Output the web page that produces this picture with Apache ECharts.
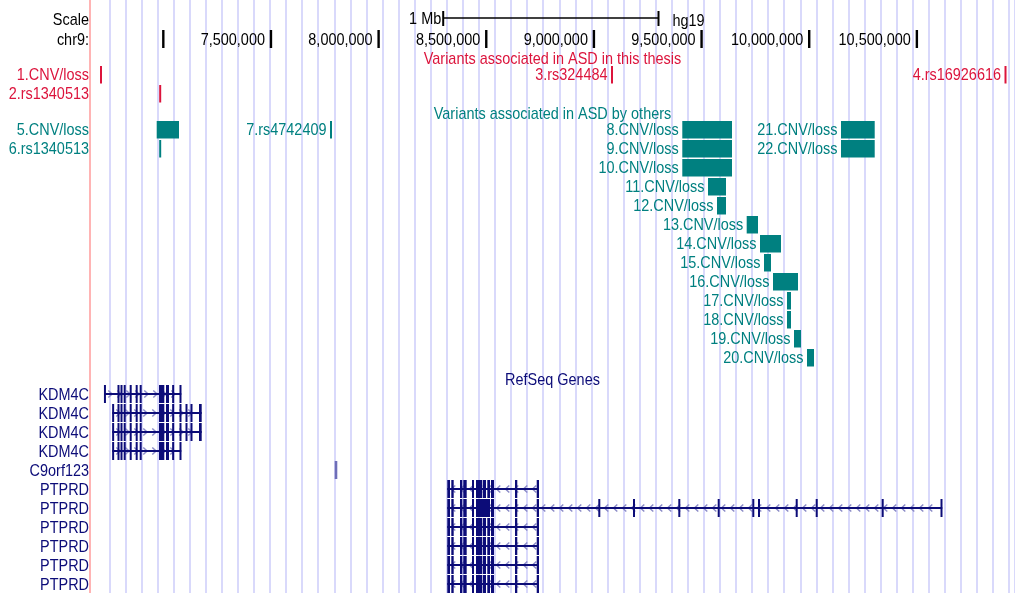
<!DOCTYPE html>
<html>
<head>
<meta charset="utf-8">
<title>chr9 ASD variants</title>
<script src="https://cdn.jsdelivr.net/npm/echarts@6/dist/echarts.min.js"></script>
<style>
  html, body { margin: 0; padding: 0; background: #ffffff; }
  #chart { width: 1015px; height: 593px; }
</style>
</head>
<body>
<div id="chart"></div>
<script>
// ---------- data (hg19, chr9) ----------
const rulerTicks  = [7000000, 7500000, 8000000, 8500000, 9000000, 9500000, 10000000, 10500000];
const rulerLabels = ['', '7,500,000', '8,000,000', '8,500,000', '9,000,000', '9,500,000', '10,000,000', '10,500,000'];
const scaleBarRange = [8300000, 9300000];
const scaleBarLabel = '1 Mb';
const assemblyName = 'hg19';
const chromLabel = 'chr9:';

const trackTitles = ['Variants associated in ASD in this thesis', 'Variants associated in ASD by others', 'RefSeq Genes'];

// variants found in this thesis
const thesisNames = ['1.CNV/loss', '2.rs1340513', '3.rs324484', '4.rs16926616'];
const thesisStart = [6709500, 6985500, 9084000, 10911700];
const thesisEnd   = [6711600, 6985501, 9084001, 10911701];

// variants reported by others
const otherNames = ['5.CNV/loss', '6.rs1340513', '7.rs4742409', '8.CNV/loss', '9.CNV/loss', '10.CNV/loss',
  '11.CNV/loss', '12.CNV/loss', '13.CNV/loss', '14.CNV/loss', '15.CNV/loss', '16.CNV/loss', '17.CNV/loss',
  '18.CNV/loss', '19.CNV/loss', '20.CNV/loss', '21.CNV/loss', '22.CNV/loss'];
const otherStart = [6969300, 6985500, 7778800, 9410500, 9410500, 9410500, 9529900, 9571700, 9709600, 9771400,
  9790000, 9831800, 9896800, 9896800, 9929300, 9989700, 10147600, 10147600];
const otherEnd   = [7072900, 6985501, 7778801, 9641400, 9641400, 9641400, 9613500, 9613500, 9762100, 9869000,
  9822500, 9947900, 9915400, 9915400, 9961800, 10022200, 10304200, 10304200];

// RefSeq transcripts
const kdm4cShared = [[6788100, 6795600], [6802100, 6809500], [6816000, 6825300], [6843900, 6853200],
  [6871700, 6881000], [6890300, 6899600], [6980000, 7004600], [7012500, 7026400], [7041700, 7049600],
  [7076100, 7083500]];
const kdm4cTail = [[7104000, 7111400], [7127200, 7134600], [7165700, 7178300]];
const ptprdHead = [[8319000, 8331600], [8337600, 8348700], [8378000, 8388700], [8393300, 8409100],
  [8433700, 8443000]];
const ptprdMid = [[8452300, 8480200], [8483400, 8498800], [8504800, 8517300]];
const ptprdShortTail = [[8522000, 8535900], [8633500, 8644100], [8734300, 8744900]];
const ptprdLongTail = [[9020400, 9029600], [9181600, 9190800], [9392000, 9401200], [9575000, 9584200],
  [9735700, 9744900], [9762200, 9771400], [9937300, 9946500], [10030200, 10039400], [10336700, 10345900],
  [10610800, 10618000]];

const geneNames  = ['KDM4C', 'KDM4C', 'KDM4C', 'KDM4C', 'C9orf123', 'PTPRD', 'PTPRD', 'PTPRD', 'PTPRD', 'PTPRD', 'PTPRD'];
const geneStrand = ['+', '+', '+', '+', '+', '-', '-', '-', '-', '-', '-'];
const geneExons  = [
  [[6725900, 6732000]].concat(kdm4cShared),
  [[6763000, 6770900]].concat(kdm4cShared, kdm4cTail),
  [[6763000, 6770900]].concat(kdm4cShared, kdm4cTail),
  [[6763000, 6770900]].concat(kdm4cShared),
  [[7796000, 7808100]],
  ptprdHead.concat(ptprdMid, ptprdShortTail),
  ptprdHead.concat([[8452300, 8517300]], ptprdShortTail, ptprdLongTail),
  ptprdHead.concat(ptprdMid, ptprdShortTail),
  ptprdHead.concat(ptprdMid, ptprdShortTail),
  ptprdHead.concat(ptprdMid, ptprdShortTail),
  ptprdHead.concat(ptprdMid, ptprdShortTail)
];

// ---------- look ----------
const X_MIN = 6659500, X_MAX = 10955800;      // visible window
const PLOT_LEFT = 90;                          // start of the data area
const SIDE_RIGHT = 89;                         // right edge of side labels
const FONT_FAMILY = '"Liberation Sans", Arial, Helvetica, sans-serif';
const FONT_SIZE = 17;
const TEXT_SX = 0.85;                          // narrow browser lettering
const RED = '#dc143c', TEAL = '#008080', NAVY = '#0c0c78', CHEVRON = '#8c8cc8', FAINT_GENE = '#6e6eb8';
const ROW_PITCH = 19, FEAT_H = 17.5, EXON_H = 18;
const THESIS_TOP = 66, OTHERS_TOP = 121, GENES_TOP = 385;
const TITLE_Y = [59.5, 114.5, 380];
const LABEL_GAP = 3.5, PACK_GAP = 4, MIN_W = 2;

const measureCtx = document.createElement('canvas').getContext('2d');
function textWidth(t, size) {
  measureCtx.font = (size || FONT_SIZE) + 'px ' + FONT_FAMILY;
  return measureCtx.measureText(t).width * TEXT_SX;
}
function txt(x, y, text, fill, align, size) {
  return {
    type: 'text', x: x, y: y, scaleX: TEXT_SX, silent: true,
    style: { text: text, fill: fill, font: (size || FONT_SIZE) + 'px ' + FONT_FAMILY, align: align, verticalAlign: 'middle' }
  };
}

const chart = echarts.init(document.getElementById('chart'), null, { renderer: 'canvas' });

// axes first, so packing can use the real x scale
const GUIDE_LEFT = 109.3, GUIDE_STEP = 16.07;
chart.setOption({
  animation: false,
  backgroundColor: '#ffffff',
  grid: [
    { left: PLOT_LEFT, right: 0, top: 0, bottom: 0 },
    { left: GUIDE_LEFT, right: 0, top: 0, bottom: 0 }
  ],
  xAxis: [
    { type: 'value', gridIndex: 0, min: X_MIN, max: X_MAX, show: false },
    { type: 'value', gridIndex: 1, min: 0, max: (1015 - GUIDE_LEFT) / GUIDE_STEP, interval: 1,
      axisLine: { show: false }, axisTick: { show: false }, axisLabel: { show: false },
      splitLine: { show: true, lineStyle: { color: '#d9d9fb', width: 2 } } }
  ],
  yAxis: [
    { type: 'value', gridIndex: 0, min: 0, max: 593, inverse: true,
      axisLine: { show: true, lineStyle: { color: '#ffb4b4', width: 2 } },
      axisTick: { show: false }, axisLabel: { show: false }, splitLine: { show: false } },
    { type: 'value', gridIndex: 1, min: 0, max: 1, show: false }
  ],
  series: []
});

function xPix(v) { return chart.convertToPixel({ xAxisIndex: 0 }, v); }

// greedy lane packing: a label that would cross into the side area moves there
function pack(names, starts, ends) {
  const order = names.map((n, i) => i).sort((a, b) => starts[a] - starts[b]);
  const laneEnds = [], lane = [], side = [];
  order.forEach(i => {
    const x1 = xPix(starts[i]);
    let from = x1 - LABEL_GAP - textWidth(names[i]);
    const s = from < PLOT_LEFT;
    if (s) from = -Infinity;
    const to = Math.max(xPix(ends[i]), x1 + MIN_W);
    let k = 0;
    while (k < laneEnds.length && laneEnds[k] + PACK_GAP > from) k++;
    laneEnds[k] = to;
    lane[i] = k;
    side[i] = s;
  });
  return { lane: lane, side: side };
}

function featureSeries(names, starts, ends, color, trackTop) {
  const p = pack(names, starts, ends);
  return {
    type: 'custom', xAxisIndex: 0, yAxisIndex: 0, clip: false, silent: true, z: 5,
    data: names.map((n, i) => [starts[i], ends[i], trackTop + p.lane[i] * ROW_PITCH]),
    renderItem: function (params, api) {
      const i = params.dataIndex;
      const a = api.coord([api.value(0), api.value(2)]);
      let x1 = a[0];
      let x2 = api.coord([api.value(1), api.value(2)])[0];
      if (x2 - x1 < MIN_W) { const c = (x1 + x2) / 2; x1 = c - MIN_W / 2; x2 = c + MIN_W / 2; }
      const top = a[1];
      const cy = top + FEAT_H / 2 + 1;
      const lx = p.side[i] ? SIDE_RIGHT : x1 - LABEL_GAP;
      return {
        type: 'group',
        children: [
          { type: 'rect', shape: { x: x1, y: top, width: x2 - x1, height: FEAT_H }, style: { fill: color } },
          txt(lx, cy, names[i], color, 'right')
        ]
      };
    }
  };
}

const geneSeries = {
  type: 'custom', xAxisIndex: 0, yAxisIndex: 0, clip: false, silent: true, z: 5,
  data: geneNames.map((n, i) => {
    const ex = geneExons[i];
    return [ex[0][0], ex[ex.length - 1][1], GENES_TOP + i * ROW_PITCH];
  }),
  renderItem: function (params, api) {
    const i = params.dataIndex;
    const top = api.value(2);
    const x1 = api.coord([api.value(0), top])[0];
    const x2 = api.coord([api.value(1), top])[0];
    const cy = api.coord([api.value(0), top + EXON_H / 2])[1];
    const children = [];
    // strand chevrons along the transcript
    const dir = geneStrand[i] === '+' ? 1 : -1;
    for (let cx = x1 + 6; cx < x2 - 3; cx += 9) {
      children.push({
        type: 'polyline',
        shape: { points: [[cx - 2 * dir, cy - 3.5], [cx + 1.8 * dir, cy], [cx - 2 * dir, cy + 3.5]] },
        style: { stroke: CHEVRON, lineWidth: 1.5, fill: null }
      });
    }
    if (x2 - x1 > 4) {
      children.push({ type: 'line', shape: { x1: x1, y1: cy, x2: x2, y2: cy }, style: { stroke: NAVY, lineWidth: 1.8 } });
    }
    const fill = geneNames[i] === 'C9orf123' ? FAINT_GENE : NAVY;
    geneExons[i].forEach(e => {
      let ex1 = api.coord([e[0], top])[0];
      let ex2 = api.coord([e[1], top])[0];
      if (ex2 - ex1 < MIN_W) { const c = (ex1 + ex2) / 2; ex1 = c - MIN_W / 2; ex2 = c + MIN_W / 2; }
      children.push({ type: 'rect', shape: { x: ex1, y: top, width: ex2 - ex1, height: EXON_H }, style: { fill: fill } });
    });
    children.push(txt(SIDE_RIGHT, top + EXON_H / 2 + 1, geneNames[i], NAVY, 'right'));
    return { type: 'group', children: children };
  }
};

const rulerSeries = {
  type: 'custom', xAxisIndex: 0, yAxisIndex: 0, clip: false, silent: true, z: 5,
  data: rulerTicks.map(t => [t, 30]),
  renderItem: function (params, api) {
    const i = params.dataIndex;
    const p = api.coord([api.value(0), api.value(1)]);
    const children = [
      { type: 'rect', shape: { x: p[0] - 1.2, y: p[1], width: 2.4, height: 18 }, style: { fill: '#000000' } }
    ];
    if (rulerLabels[i]) children.push(txt(p[0] - 6, p[1] + 10.5, rulerLabels[i], '#000000', 'right'));
    return { type: 'group', children: children };
  }
};

const scaleSeries = {
  type: 'custom', xAxisIndex: 0, yAxisIndex: 0, clip: false, silent: true, z: 5,
  data: [[scaleBarRange[0], scaleBarRange[1], 18]],
  renderItem: function (params, api) {
    const y = api.value(2);
    const a = api.coord([api.value(0), y]);
    const b = api.coord([api.value(1), y]);
    return {
      type: 'group',
      children: [
        { type: 'line', shape: { x1: a[0], y1: a[1], x2: b[0], y2: b[1] }, style: { stroke: '#000000', lineWidth: 1.5 } },
        { type: 'line', shape: { x1: a[0], y1: a[1] - 7, x2: a[0], y2: a[1] + 8 }, style: { stroke: '#000000', lineWidth: 2 } },
        { type: 'line', shape: { x1: b[0], y1: b[1] - 7, x2: b[0], y2: b[1] + 8 }, style: { stroke: '#000000', lineWidth: 2 } },
        txt(a[0] - 2, a[1] + 1.5, scaleBarLabel, '#000000', 'right'),
        txt(b[0] + 14, a[1] + 3, assemblyName, '#000000', 'left'),
        txt(SIDE_RIGHT, 20.3, 'Scale', '#000000', 'right'),
        txt(SIDE_RIGHT, 40.5, chromLabel, '#000000', 'right')
      ]
    };
  }
};

const titleColors = [RED, TEAL, NAVY];
const titleSeries = {
  type: 'custom', xAxisIndex: 0, yAxisIndex: 0, clip: false, silent: true, z: 4,
  data: trackTitles.map((t, i) => [(X_MIN + X_MAX) / 2, TITLE_Y[i]]),
  renderItem: function (params, api) {
    const p = api.coord([api.value(0), api.value(1)]);
    return txt(p[0], p[1], trackTitles[params.dataIndex], titleColors[params.dataIndex], 'center');
  }
};

chart.setOption({
  series: [
    rulerSeries,
    scaleSeries,
    titleSeries,
    featureSeries(thesisNames, thesisStart, thesisEnd, RED, THESIS_TOP),
    featureSeries(otherNames, otherStart, otherEnd, TEAL, OTHERS_TOP),
    geneSeries
  ]
});
</script>
</body>
</html>
